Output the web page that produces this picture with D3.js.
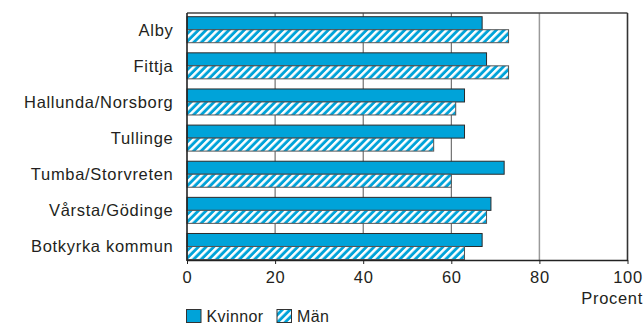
<!DOCTYPE html>
<html>
<head>
<meta charset="utf-8">
<script src="https://cdn.jsdelivr.net/npm/d3@7"></script>
<style>
  html, body { margin: 0; padding: 0; background: #fff; }
  svg { display: block; }
  text { font-family: "Liberation Sans", Arial, Helvetica, sans-serif; fill: #231f20; }
</style>
</head>
<body>
<svg id="chart" width="643" height="324"></svg>
<script>
const categories = ["Alby", "Fittja", "Hallunda/Norsborg", "Tullinge", "Tumba/Storvreten", "Vårsta/Gödinge", "Botkyrka kommun"];
const seriesNames = ["Kvinnor", "Män"];
const kvinnor = [67, 68, 63, 63, 72, 69, 67];
const man = [73, 73, 61, 56, 60, 68, 63];
const xTicks = [0, 20, 40, 60, 80, 100];
const xTitle = "Procent";

const blue = "#00a3d9";
const svg = d3.select("#chart");

const x0 = 187, x1 = 627.5, yTop = 13, yBottom = 260;
const x = d3.scaleLinear().domain([0, 100]).range([x0, x1]);
const y = d3.scaleBand().domain(categories).range([16.7, 259.5]).paddingInner(0.28).paddingOuter(0);
const ySub = d3.scaleBand().domain(seriesNames).range([0, y.bandwidth()]);

// hatch pattern
const defs = svg.append("defs");
const pat = defs.append("pattern")
  .attr("id", "hatch").attr("patternUnits", "userSpaceOnUse")
  .attr("width", 5.4).attr("height", 10)
  .attr("patternTransform", "rotate(45)");
pat.append("rect").attr("width", 5.4).attr("height", 10).attr("fill", blue);
pat.append("rect").attr("width", 2.5).attr("height", 10).attr("fill", "#fff");

// gridlines
svg.append("g").selectAll("line").data(xTicks.filter(d => d > 0 && d < 100)).join("line")
  .attr("x1", d => x(d)).attr("x2", d => x(d))
  .attr("y1", yTop).attr("y2", yBottom)
  .attr("stroke", d => d === 80 ? "#9a9a9a" : "#555")
  .attr("stroke-width", d => d === 80 ? 1.5 : 1);

// frame top & right
svg.append("line").attr("x1", x0).attr("x2", x1).attr("y1", yTop).attr("y2", yTop)
  .attr("stroke", "#444").attr("stroke-width", 1.6);
svg.append("line").attr("x1", x1).attr("x2", x1).attr("y1", yTop).attr("y2", yBottom)
  .attr("stroke", "#333").attr("stroke-width", 1.6);

// bars
const data = categories.map((c, i) => ({ c, vals: [{ s: "Kvinnor", v: kvinnor[i] }, { s: "Män", v: man[i] }] }));
const g = svg.append("g").selectAll("g").data(data).join("g")
  .attr("transform", d => `translate(0,${y(d.c)})`);
g.selectAll("rect").data(d => d.vals).join("rect")
  .attr("x", x(0))
  .attr("y", d => ySub(d.s))
  .attr("width", d => x(d.v) - x(0))
  .attr("height", ySub.bandwidth())
  .attr("fill", d => d.s === "Kvinnor" ? blue : "url(#hatch)")
  .attr("stroke", d => d.s === "Kvinnor" ? "#2b2b2b" : "#555")
  .attr("stroke-width", 1);

// x axis
const xAxis = d3.axisBottom(x).tickValues(xTicks).tickSize(4).tickSizeOuter(0).tickPadding(6);
const ax = svg.append("g").attr("transform", `translate(0,${yBottom})`).call(xAxis);
ax.select(".domain").attr("stroke", "#222").attr("stroke-width", 1.6);
ax.selectAll(".tick line").attr("stroke", "#222");
ax.selectAll(".tick text")
  .attr("font-size", 16.5).attr("letter-spacing", 0.7)
  .attr("font-family", "Liberation Sans, Arial, sans-serif")
  .attr("fill", "#231f20")
  .attr("dy", null).attr("y", 23.3).attr("dominant-baseline", "auto");

// left axis line
svg.append("line").attr("x1", x0).attr("x2", x0).attr("y1", yTop).attr("y2", yBottom + 1)
  .attr("stroke", "#222").attr("stroke-width", 1.6);

// category labels
svg.append("g").selectAll("text").data(categories).join("text")
  .attr("x", 173.5)
  .attr("y", d => y(d) + y.bandwidth() / 2 + 6)
  .attr("text-anchor", "end")
  .attr("font-size", 16.5).attr("letter-spacing", 0.7)
  .text(d => d);

// x title
svg.append("text").attr("x", 643).attr("y", 303.5).attr("text-anchor", "end")
  .attr("font-size", 16.5).attr("letter-spacing", 0.7).text(xTitle);

// legend
const legend = [{ s: "Kvinnor", x: 186.5 }, { s: "Män", x: 277 }];
const lg = svg.append("g").selectAll("g").data(legend).join("g")
  .attr("transform", d => `translate(${d.x},309.5)`);
lg.append("rect").attr("width", 14.5).attr("height", 13)
  .attr("fill", d => d.s === "Kvinnor" ? blue : "url(#hatch)")
  .attr("stroke", "#333").attr("stroke-width", 1);
lg.append("text").attr("x", 20).attr("y", 12.5)
  .attr("font-size", 16).attr("letter-spacing", 0.4).text(d => d.s);
</script>
</body>
</html>
